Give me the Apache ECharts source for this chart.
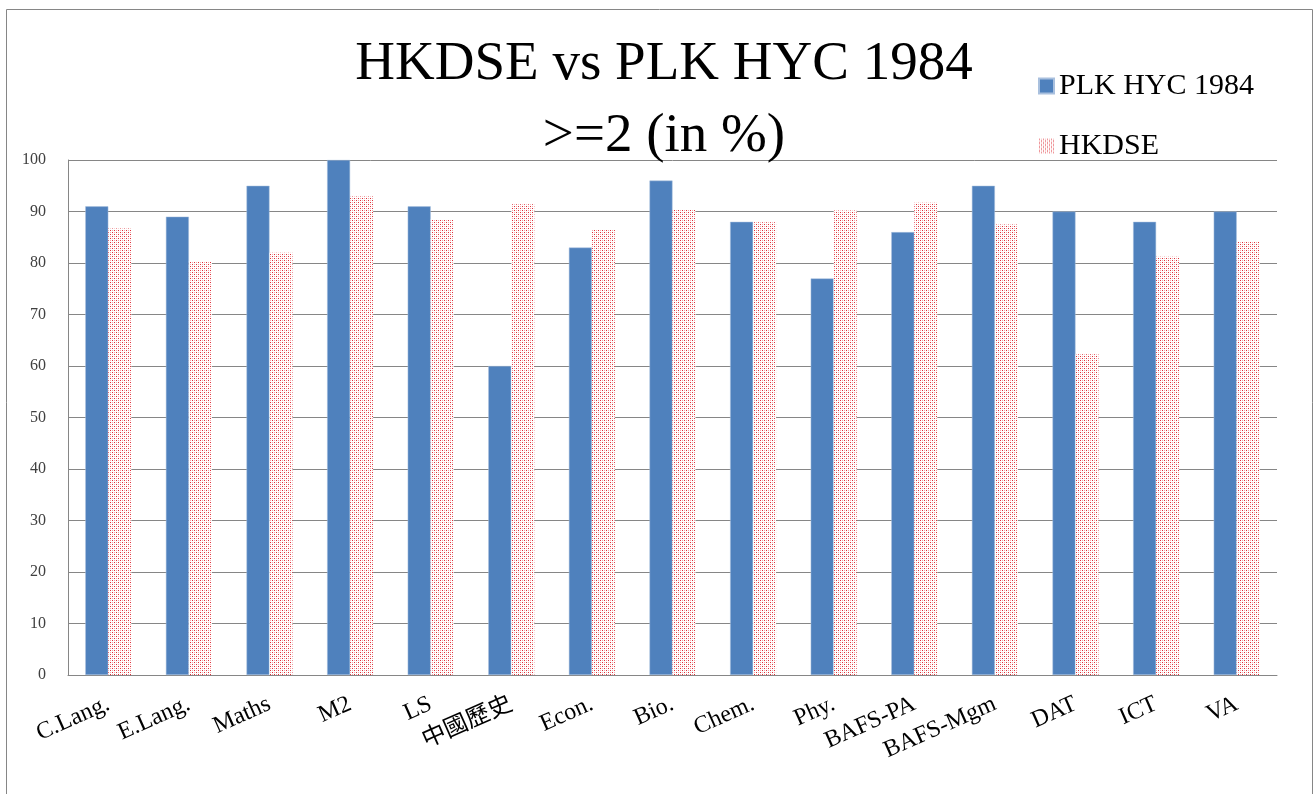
<!DOCTYPE html>
<html>
<head>
<meta charset="utf-8">
<title>HKDSE vs PLK HYC 1984</title>
<script src="https://cdn.jsdelivr.net/npm/echarts@6/dist/echarts.min.js"></script>
<style>
    html, body { margin: 0; padding: 0; background: #fff; }
    #chart { width: 1315px; height: 794px; }
</style>
</head>
<body>
<div id="chart"></div>
<script type="application/javascript">
    // subjects and pass rates (>=2, %)
    var subjects = ['C.Lang.', 'E.Lang.', 'Maths', 'M2', 'LS', '中國歷史', 'Econ.', 'Bio.', 'Chem.', 'Phy.', 'BAFS-PA', 'BAFS-Mgm', 'DAT', 'ICT', 'VA'];
    var plkValues = [91, 89, 95, 100, 91, 60, 83, 96, 88, 77, 86, 95, 90, 88, 90];
    var hkdseValues = [86.7, 80.4, 82.0, 92.9, 88.5, 91.4, 86.5, 90.3, 87.9, 90.2, 91.7, 87.5, 62.3, 81.2, 84.1];
    var yTicks = [0, 10, 20, 30, 40, 50, 60, 70, 80, 90, 100];

    var serif = "'Liberation Serif', 'Noto Sans CJK TC', serif";

    // red dotted fill like the excel pattern
    function dotPattern () {
        var c = document.createElement('canvas');
        c.width = 4;
        c.height = 4;
        var ctx = c.getContext('2d');
        ctx.fillStyle = '#ffffff';
        ctx.fillRect(0, 0, 4, 4);
        ctx.fillStyle = '#e0303a';
        ctx.fillRect(0, 0, 1, 1);
        ctx.fillRect(2, 2, 1, 1);
        ctx.fillStyle = '#f2a6a6';
        ctx.fillRect(2, 0, 1, 1);
        ctx.fillRect(0, 2, 1, 1);
        return c;
    }

    var chart = echarts.init(document.getElementById('chart'));
    var option = {};
    option.animation = false;
    option.backgroundColor = '#ffffff';
    option.graphic = [
        {
            type: 'rect',
            shape: {x: 6.5, y: 9.5, width: 1306, height: 800},
            style: {fill: 'none', stroke: '#868686', lineWidth: 1},
            silent: true
        }
    ];
    option.title = {
        text: 'HKDSE vs PLK HYC 1984\n>=2 (in %)',
        left: 659,
        top: 24,
        textAlign: 'center',
        textStyle: {
            fontFamily: serif,
            fontWeight: 'normal',
            fontSize: 55,
            lineHeight: 72,
            color: '#000'
        }
    };
    option.legend = {
        orient: 'vertical',
        left: 1033,
        top: 66,
        icon: 'rect',
        itemWidth: 15,
        itemHeight: 15,
        itemGap: 30,
        textStyle: {fontFamily: serif, fontSize: 30, color: '#000'},
        data: ['PLK HYC 1984', 'HKDSE']
    };
    option.grid = {left: 68, right: 38, top: 160, bottom: 119};
    option.xAxis = {
        type: 'category',
        data: subjects,
        axisLine: {lineStyle: {color: '#868686'}},
        axisTick: {show: false},
        axisLabel: {
            rotate: 24,
            interval: 0,
            margin: 28,
            fontFamily: serif,
            fontSize: 24,
            color: '#000'
        }
    };
    option.yAxis = {
        type: 'value',
        min: yTicks[0],
        max: yTicks[yTicks.length - 1],
        interval: 10,
        axisLine: {show: true, lineStyle: {color: '#868686'}},
        axisTick: {show: false},
        splitLine: {lineStyle: {color: '#868686'}},
        axisLabel: {fontFamily: serif, fontSize: 16, color: '#404040', margin: 22}
    };
    option.series = [
        {
            name: 'PLK HYC 1984',
            type: 'bar',
            barWidth: 23,
            barGap: '0%',
            itemStyle: {color: '#4f81bd', borderColor: '#a9c0de', borderWidth: 0.5},
            data: plkValues
        },
        {
            name: 'HKDSE',
            type: 'bar',
            barWidth: 23,
            barGap: '0%',
            itemStyle: {color: {image: dotPattern(), repeat: 'repeat'}},
            data: hkdseValues
        }
    ];
    chart.setOption(option);
</script>
</body>
</html>
